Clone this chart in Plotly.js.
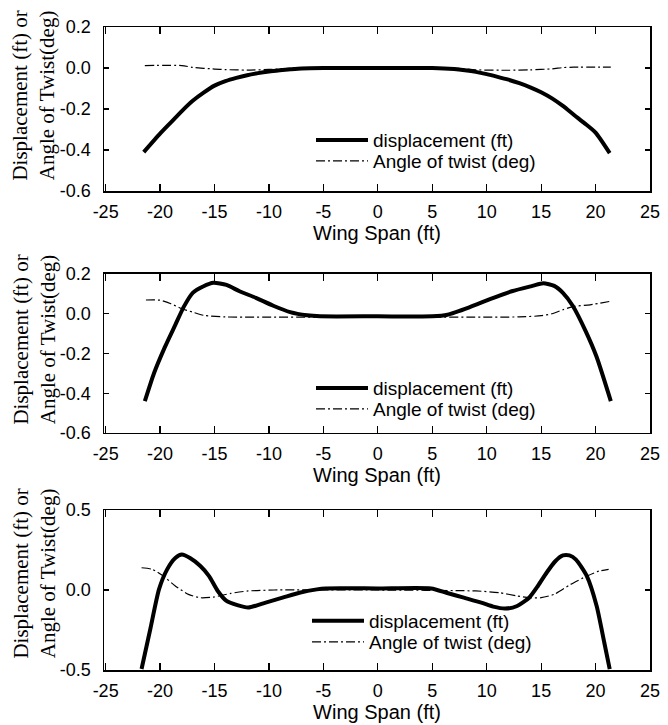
<!DOCTYPE html>
<html>
<head>
<meta charset="utf-8">
<script src="https://cdn.plot.ly/plotly-3.0.1.min.js"></script>
<style>html,body{margin:0;padding:0;background:#fff;}#chart{width:668px;height:725px;}</style>
</head>
<body>
<div id="chart"></div>
<script>
// ---- Data ----
const xTickVals = [-25, -20, -15, -10, -5, 0, 5, 10, 15, 20, 25];
const xTickText = ["-25", "-20", "-15", "-10", "-5", "0", "5", "10", "15", "20", "25"];
const yTickVals12 = [-0.6, -0.4, -0.2, 0, 0.2];
const yTickText12 = ["-0.6", "-0.4", "-0.2", "0.0", "0.2"];
const yTickVals3 = [-0.5, 0, 0.5];
const yTickText3 = ["-0.5", "0.0", "0.5"];

const seriesNames = ["displacement (ft)", "Angle of twist (deg)"];

// Panel 1
const p1DispX = [-21.5, -20, -19, -18, -17, -16, -15, -14, -13, -12, -11, -10, -9, -8, -7, -5, 0, 5, 7, 8, 9, 10, 11, 12, 13, 14, 15, 16, 17, 18, 19, 20, 21.3];
const p1DispY = [-0.41, -0.32, -0.265, -0.21, -0.16, -0.12, -0.086, -0.064, -0.048, -0.035, -0.025, -0.017, -0.011, -0.006, -0.002, 0, 0, 0, -0.005, -0.011, -0.019, -0.03, -0.043, -0.057, -0.074, -0.094, -0.118, -0.148, -0.185, -0.228, -0.27, -0.315, -0.415];
const p1TwistX = [-21.4, -18, -17, -15, -14, -12, -10, -7, -5, 0, 5, 7, 9, 12, 14, 16, 17, 18, 21.4];
const p1TwistY = [0.012, 0.012, 0.003, -0.005, -0.008, -0.01, -0.007, 0.001, 0, -0.002, 0, 0, -0.009, -0.011, -0.009, -0.004, 0.002, 0.004, 0.004];

// Panel 2
const p2DispX = [-21.4, -20.55, -19.57, -18.6, -17.8, -17.0, -16.05, -15.1, -13.9, -12.7, -11.2, -9.6, -8.05, -6.5, -5.3, 0, 5.0, 6.4, 8.4, 10.3, 12.3, 14.2, 15.2, 16.2, 17.0, 17.9, 19.1, 20.1, 21.4];
const p2DispY = [-0.44, -0.298, -0.169, -0.056, 0.037, 0.105, 0.137, 0.156, 0.145, 0.113, 0.08, 0.04, 0.008, -0.008, -0.013, -0.013, -0.013, -0.005, 0.032, 0.073, 0.113, 0.14, 0.153, 0.14, 0.105, 0.04, -0.089, -0.218, -0.44];
const p2TwistX = [-21.3, -20, -19, -18, -17, -16, -14, 0, 13, 15, 16, 17, 18, 19.5, 21.4];
const p2TwistY = [0.069, 0.068, 0.05, 0.025, 0.008, -0.008, -0.016, -0.016, -0.016, -0.01, 0.0, 0.02, 0.037, 0.045, 0.063];

// Panel 3
const p3DispX = [-21.7, -20.9, -20.1, -19.35, -18.6, -18.0, -17.25, -16.3, -15.5, -14.7, -13.9, -12.9, -11.9, -10.3, -8.75, -7.2, -5.6, -4.8, 0, 4.9, 6.3, 7.9, 9.5, 10.6, 11.7, 12.8, 13.9, 14.7, 15.5, 16.3, 17.0, 17.6, 18.2, 19.2, 20.1, 20.8, 21.3];
const p3DispY = [-0.494, -0.245, 0.004, 0.129, 0.20, 0.222, 0.20, 0.15, 0.087, -0.006, -0.068, -0.095, -0.11, -0.079, -0.048, -0.017, 0.004, 0.01, 0.01, 0.01, -0.017, -0.048, -0.079, -0.104, -0.116, -0.10, -0.048, 0.025, 0.108, 0.18, 0.216, 0.216, 0.19, 0.087, -0.1, -0.328, -0.494];
const p3TwistX = [-21.7, -20.7, -19.7, -18.6, -17.4, -16.3, -15.1, -13.5, -11.9, -9.5, 0, 9.0, 11.2, 12.8, 13.9, 15.0, 16.2, 17.7, 19.2, 20.3, 21.2];
const p3TwistY = [0.139, 0.129, 0.087, 0.025, -0.027, -0.048, -0.044, -0.021, -0.006, 0, 0, -0.006, -0.017, -0.037, -0.048, -0.048, -0.027, 0.035, 0.087, 0.118, 0.129];

// ---- Styles ----
const dispLine = {color: "#000", width: 4, shape: "spline", smoothing: 0.6};
const twistLine = {color: "#000", width: 1.2, dash: "9px,3px,2px,3px", shape: "spline", smoothing: 0.6};

function tr(x, y, ax, name, line, leg) {
  return {x: x, y: y, xaxis: "x" + ax, yaxis: "y" + ax, name: name, type: "scatter",
          mode: "lines", line: line, legend: leg, showlegend: true, hoverinfo: "x+y"};
}

const data = [
  tr(p1DispX, p1DispY, "", seriesNames[0], dispLine, "legend"),
  tr(p1TwistX, p1TwistY, "", seriesNames[1], twistLine, "legend2"),
  tr(p2DispX, p2DispY, "2", seriesNames[0], dispLine, "legend3"),
  tr(p2TwistX, p2TwistY, "2", seriesNames[1], twistLine, "legend4"),
  tr(p3DispX, p3DispY, "3", seriesNames[0], dispLine, "legend5"),
  tr(p3TwistX, p3TwistY, "3", seriesNames[1], twistLine, "legend6")
];

const tickFont = {family: "Liberation Sans, Arial, sans-serif", size: 18, color: "#000"};

function xax(anchor) {
  return {
    anchor: anchor, domain: [0, 1], range: [-25.15, 25],
    tickmode: "array", tickvals: xTickVals, ticktext: xTickText,
    ticks: "inside", ticklen: 7, tickwidth: 1.2, tickcolor: "#000",
    showline: true, linecolor: "#000", linewidth: 1.5, mirror: "ticks",
    showgrid: false, zeroline: false, tickfont: tickFont, ticklabelstandoff: 4,
    title: {text: "Wing Span (ft)", font: {family: "Liberation Sans, Arial, sans-serif", size: 20, color: "#000"}, standoff: 5}
  };
}
function yax(anchor, domain, range, vals, txt) {
  return {
    anchor: anchor, domain: domain, range: range,
    tickmode: "array", tickvals: vals, ticktext: txt,
    ticks: "inside", ticklen: 5, tickwidth: 1.2, tickcolor: "#000",
    showline: true, linecolor: "#000", linewidth: 1.5, mirror: "ticks",
    showgrid: false, zeroline: false, tickfont: tickFont, ticklabelstandoff: 8
  };
}
function leg(x, y) {
  return {x: x, y: y, xanchor: "left", yanchor: "middle", bgcolor: "rgba(0,0,0,0)",
          borderwidth: 0, itemwidth: 52, font: {family: "Liberation Sans, Arial, sans-serif", size: 19, color: "#000"}};
}

const yTitle = "Displacement (ft) or<br>Angle of Twist(deg)";
function ytitleAnn(y) {
  return {xref: "paper", yref: "paper", x: -0.129, y: y, xanchor: "center", yanchor: "middle",
          text: yTitle, showarrow: false, textangle: -90,
          font: {family: "Liberation Serif", size: 21, color: "#000"}};
}

const legX = (311 - 104) / 546;
const legX3 = (307 - 104) / 546;

const layout = {
  width: 668, height: 725,
  margin: {l: 104, r: 18, t: 27, b: 55},
  paper_bgcolor: "#fff", plot_bgcolor: "#fff",
  font: tickFont,
  xaxis: xax("y"),
  xaxis2: xax("y2"),
  xaxis3: xax("y3"),
  yaxis: yax("x", [0.7449, 1], [-0.6, 0.2], yTickVals12, yTickText12),
  yaxis2: yax("x2", [0.3686, 0.6159], [-0.6, 0.2], yTickVals12, yTickText12),
  yaxis3: yax("x3", [0, 0.2488], [-0.5, 0.5], yTickVals3, yTickText3),
  legend: leg(legX, 0.8242),
  legend2: leg(legX, 0.7916),
  legend3: leg(legX, 0.4385),
  legend4: leg(legX, 0.4060),
  legend5: leg(legX3, 0.0762),
  legend6: leg(legX3, 0.0435),
  annotations: [ytitleAnn(0.8927), ytitleAnn(0.5132), ytitleAnn(0.1493)],
  showlegend: true
};

Plotly.newPlot("chart", data, layout, {staticPlot: true, displayModeBar: false});
</script>
</body>
</html>
